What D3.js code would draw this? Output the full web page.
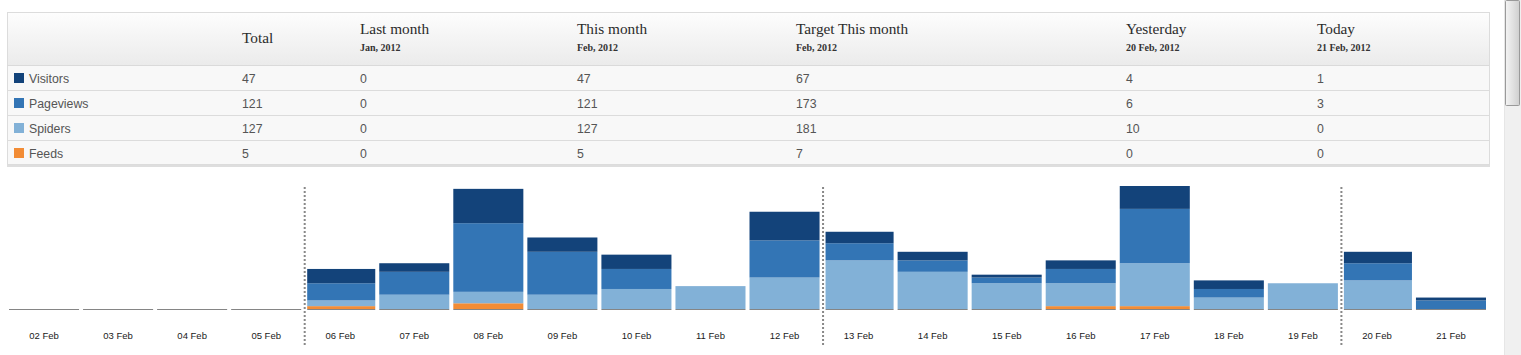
<!DOCTYPE html>
<html>
<head>
<meta charset="utf-8">
<script src="https://cdn.jsdelivr.net/npm/d3@7"></script>
<style>
  html, body { margin: 0; padding: 0; background: #fff; overflow: hidden; width: 1521px; height: 355px; }
  svg { display: block; }
</style>
</head>
<body>
<script>
// ---------- data ----------
const days = ["02 Feb","03 Feb","04 Feb","05 Feb","06 Feb","07 Feb","08 Feb","09 Feb","10 Feb","11 Feb",
              "12 Feb","13 Feb","14 Feb","15 Feb","16 Feb","17 Feb","18 Feb","19 Feb","20 Feb","21 Feb"];
const visitors  = [0,0,0,0, 5, 3,12, 5, 5, 0,10, 4, 3, 1, 3, 8, 3, 0, 4, 1];
const pageviews = [0,0,0,0, 6, 8,24,15, 7, 0,13, 6, 4, 2, 5,19, 3, 0, 6, 3];
const spiders   = [0,0,0,0, 2, 5, 4, 5, 7, 8,11,17,13, 9, 8,15, 4, 9,10, 0];
const feeds     = [0,0,0,0, 1, 0, 2, 0, 0, 0, 0, 0, 0, 0, 1, 1, 0, 0, 0, 0];
const weekStarts = ["06 Feb","13 Feb","20 Feb"];

const seriesNames = ["Visitors","Pageviews","Spiders","Feeds"];
const seriesColors = ["#13437a","#3375b5","#82b1d7","#f28c35"];

const columnTitles = ["Total","Last month","This month","Target This month","Yesterday","Today"];
const columnSubs   = ["","Jan, 2012","Feb, 2012","Feb, 2012","20 Feb, 2012","21 Feb, 2012"];
const rowVisitors  = [47,0,47,67,4,1];
const rowPageviews = [121,0,121,173,6,3];
const rowSpiders   = [127,0,127,181,10,0];
const rowFeeds     = [5,0,5,7,0,0];

// ---------- layout ----------
const W = 1521, H = 355;
const svg = d3.select("body").append("svg").attr("width", W).attr("height", H);
const defs = svg.append("defs");

// ---------- summary table ----------
const tX0 = 7, tX1 = 1489, tY0 = 12, headH = 53, rowH = 25;
const colX = [242, 360, 577, 796, 1126, 1317];
const rows = [rowVisitors, rowPageviews, rowSpiders, rowFeeds];

const grad = defs.append("linearGradient").attr("id","hg").attr("x1",0).attr("y1",0).attr("x2",0).attr("y2",1);
grad.append("stop").attr("offset","0%").attr("stop-color","#fdfdfd");
grad.append("stop").attr("offset","100%").attr("stop-color","#ebebeb");

const table = svg.append("g");
// bottom shadow
table.append("rect").attr("x", tX0).attr("y", tY0 + headH + rowH*4 - 1).attr("width", tX1 - tX0 + 1).attr("height", 3).attr("fill", "#dedede");
table.append("rect").attr("x", tX0 + 0.5).attr("y", tY0 + 0.5).attr("width", tX1 - tX0).attr("height", headH + rowH*4 - 1)
  .attr("fill", "#f8f8f8").attr("stroke", "#dcdcdc");
table.append("rect").attr("x", tX0 + 1).attr("y", tY0 + 1).attr("width", tX1 - tX0 - 1).attr("height", headH - 1)
  .attr("fill", "url(#hg)");
table.append("line").attr("x1", tX0).attr("x2", tX1).attr("y1", tY0 + headH + 0.5).attr("y2", tY0 + headH + 0.5).attr("stroke", "#dadada");
[1,2,3].forEach(i => {
  table.append("line").attr("x1", tX0).attr("x2", tX1)
    .attr("y1", tY0 + headH + rowH*i + 0.5).attr("y2", tY0 + headH + rowH*i + 0.5).attr("stroke", "#dcdcdc");
});

// header texts
columnTitles.forEach((t, i) => {
  const sub = columnSubs[i];
  table.append("text").attr("x", colX[i]).attr("y", sub ? 34 : 43)
    .attr("font-family", "'Liberation Serif', 'DejaVu Serif', serif").attr("font-size", 15.3)
    .attr("fill", "#2b2b2b").text(t);
  if (sub) {
    table.append("text").attr("x", colX[i]).attr("y", 51)
      .attr("font-family", "'Liberation Serif', 'DejaVu Serif', serif").attr("font-size", 10)
      .attr("font-weight", "bold").attr("fill", "#333").text(sub);
  }
});

// body rows
seriesNames.forEach((name, r) => {
  const base = tY0 + headH + rowH*r + 18;
  table.append("rect").attr("x", 14).attr("y", base - 10).attr("width", 10).attr("height", 10).attr("fill", seriesColors[r]);
  table.append("text").attr("x", 29).attr("y", base)
    .attr("font-family", "'Liberation Sans', Arial, sans-serif").attr("font-size", 12.3)
    .attr("fill", "#555").text(name);
  rows[r].forEach((v, c) => {
    table.append("text").attr("x", colX[c]).attr("y", base)
      .attr("font-family", "'Liberation Sans', Arial, sans-serif").attr("font-size", 12.3)
      .attr("fill", "#555").text(v);
  });
});

// ---------- stacked bar chart ----------
const baseY = 309, topY = 186;
const data = days.map((d, i) => ({ day: d, Visitors: visitors[i], Pageviews: pageviews[i], Spiders: spiders[i], Feeds: feeds[i] }));
const stackKeys = ["Feeds","Spiders","Pageviews","Visitors"];
const stacked = d3.stack().keys(stackKeys)(data);
const colorOf = k => seriesColors[seriesNames.indexOf(k)];

const x = d3.scaleBand().domain(days).range([9, 1486]).paddingInner(4/74).paddingOuter(0);
const maxTotal = d3.max(data, d => d.Visitors + d.Pageviews + d.Spiders + d.Feeds);
const y = d3.scaleLinear().domain([0, maxTotal]).range([baseY, topY]);

const isWeek = d => weekStarts.includes(d);
const bx = d => x(d) + (isWeek(d) ? 2 : 0);
const bw = d => x.bandwidth() - (isWeek(d) ? 2 : 0);

// week separators
svg.append("g").selectAll("line").data(weekStarts).join("line")
  .attr("x1", d => x(d) - 0.5).attr("x2", d => x(d) - 0.5)
  .attr("y1", 187).attr("y2", 345)
  .attr("stroke", "#888").attr("stroke-width", 2).attr("stroke-dasharray", "2,2");

const bars = svg.append("g");
bars.selectAll("g").data(stacked).join("g")
  .attr("fill", s => colorOf(s.key))
  .selectAll("rect").data(s => s.filter(p => p[1] > p[0])).join("rect")
  .attr("x", p => bx(p.data.day))
  .attr("width", p => bw(p.data.day))
  .attr("y", p => y(p[1]))
  .attr("height", p => y(p[0]) - y(p[1]));

// baselines under each bar
svg.append("g").selectAll("rect").data(days).join("rect")
  .attr("x", d => bx(d)).attr("width", d => bw(d))
  .attr("y", baseY).attr("height", 1).attr("fill", "#858585");

// x axis
const xAxis = svg.append("g").attr("transform", `translate(0,${baseY})`)
  .call(d3.axisBottom(x).tickSize(0).tickPadding(23));
xAxis.select(".domain").remove();
xAxis.selectAll("text").attr("font-family", "'Liberation Sans', Arial, sans-serif")
  .attr("font-size", 9.5).attr("fill", "#1a1a1a");

// ---------- fake scrollbar ----------
const sg = defs.append("linearGradient").attr("id","sg").attr("x1",0).attr("y1",0).attr("x2",1).attr("y2",0);
sg.append("stop").attr("offset","0%").attr("stop-color","#f4f4f4");
sg.append("stop").attr("offset","50%").attr("stop-color","#e2e2e2");
sg.append("stop").attr("offset","100%").attr("stop-color","#cfcfcf");
svg.append("rect").attr("x", 1504).attr("y", 0).attr("width", 17).attr("height", H).attr("fill", "#f0f0f0");
svg.append("line").attr("x1", 1504.5).attr("x2", 1504.5).attr("y1", 0).attr("y2", H).attr("stroke", "#e6e6e6");
svg.append("rect").attr("x", 1505.5).attr("y", 0.5).attr("width", 14).attr("height", 105)
  .attr("rx", 1).attr("fill", "url(#sg)").attr("stroke", "#9a9a9a");
</script>
</body>
</html>
